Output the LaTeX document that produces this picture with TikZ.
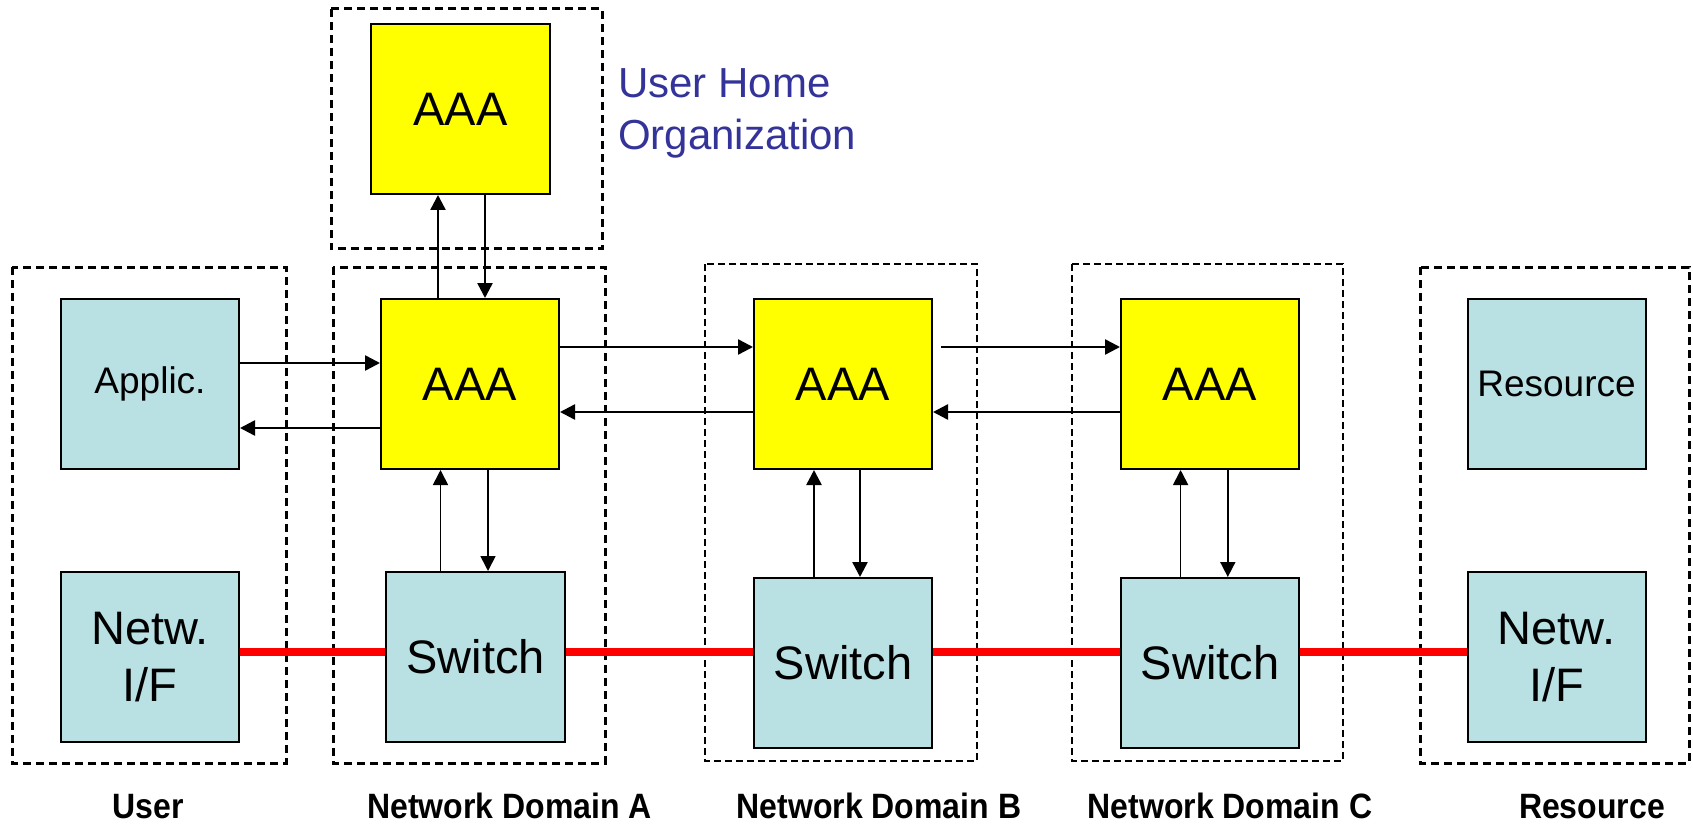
\documentclass[tikz,border=0pt]{standalone}
\usepackage{fontspec}
\usepackage{graphicx}
\setmainfont{Liberation Sans}
\usetikzlibrary{arrows.meta}
\definecolor{aaafill}{HTML}{FFFF00}
\definecolor{boxblue}{HTML}{B9E0E3}
\definecolor{homeblue}{HTML}{333399}
\definecolor{linkred}{HTML}{FF0000}
\begin{document}
\begin{tikzpicture}[x=1pt,y=-1pt,
  blk/.style={draw=black, line width=2pt, minimum width=178pt, minimum height=170pt, inner sep=0pt, anchor=center},
  aaa/.style={blk, fill=aaafill, font=\fontsize{47}{57}\selectfont},
  bluebox/.style={blk, fill=boxblue, font=\fontsize{47}{57}\selectfont, align=center},
  smallbox/.style={blk, fill=boxblue, font=\fontsize{37}{44}\selectfont},
  frameA/.style={draw=black, line width=3pt, dash pattern=on 8pt off 5pt},
  frameB/.style={draw=black, line width=2pt, dash pattern=on 7pt off 4pt},
  msg/.style={draw=black, line width=2.5pt, -{Triangle[length=15pt,width=15pt]}},
  msgthin/.style={msg, line width=1.7pt},
  link/.style={draw=linkred, line width=8pt},
  domlabel/.style={font=\fontsize{32}{38}\selectfont\bfseries, anchor=base, inner sep=0pt},
]
\fill[white] (0,0) rectangle (1693,826);
\useasboundingbox (0,0) rectangle (1693,826);

% dashed frames
\draw[frameA] (331,9) rectangle (602,249);
\draw[frameA] (12,267) rectangle (286,763);
\draw[frameA] (333,267) rectangle (605,763);
\draw[frameB] (705,264) rectangle (977,761);
\draw[frameB] (1072,264) rectangle (1343,761);
\draw[frameA] (1420,267) rectangle (1689,763);

% boxes
\node[aaa, minimum width=179pt] (homeaaa) at (460.5,109) {AAA};
\node[aaa] (aaaA) at (470,384) {AAA};
\node[aaa] (aaaB) at (843,384) {AAA};
\node[aaa] (aaaC) at (1210,384) {AAA};
\node[smallbox] (applic) at (150,384) {Applic.};
\node[smallbox] (resource) at (1556.5,384) {Resource};
\node[bluebox] (netL) at (150,657) {Netw.\\I/F};
\node[bluebox] (netR) at (1556.5,657) {Netw.\\I/F};
\node[bluebox, minimum width=179pt] (swA) at (475.5,657) {Switch};
\node[bluebox] (swB) at (843,663) {Switch};
\node[bluebox] (swC) at (1210,663) {Switch};

% home organization label
\node[anchor=north west, inner sep=0pt, align=left, text=homeblue,
      font=\fontsize{42}{51.7}\selectfont] (homelabel) at (618,68.3) {User Home\\Organization};

% AAA messages
\draw[msg] ([xshift=-32pt]aaaA.north) -- ([xshift=-32pt]aaaA.north |- homeaaa.south);
\draw[msg] ([xshift=15pt]aaaA.north |- homeaaa.south) -- ([xshift=15pt]aaaA.north);
\draw[msg] ([yshift=21pt]applic.east) -- ([yshift=21pt]applic.east -| aaaA.west);
\draw[msg] ([yshift=-44pt]aaaA.west) -- ([yshift=-44pt]aaaA.west -| applic.east);
\draw[msg] ([yshift=37pt]aaaA.east) -- ([yshift=37pt]aaaA.east -| aaaB.west);
\draw[msg] ([yshift=-28pt]aaaB.west) -- ([yshift=-28pt]aaaB.west -| aaaA.east);
\draw[msg] ([yshift=37pt,xshift=8pt]aaaB.east) -- ([yshift=37pt]aaaB.east -| aaaC.west);
\draw[msg] ([yshift=-28pt]aaaC.west) -- ([yshift=-28pt]aaaC.west -| aaaB.east);

% AAA <-> switch
\draw[msgthin] ([xshift=-35pt]swA.north) -- ([xshift=-35pt]swA.north |- aaaA.south);
\draw[msgthin] ([xshift=12.5pt]swA.north |- aaaA.south) -- ([xshift=12.5pt]swA.north);
\draw[msg] ([xshift=-29pt]swB.north) -- ([xshift=-29pt]swB.north |- aaaB.south);
\draw[msg] ([xshift=17pt]swB.north |- aaaB.south) -- ([xshift=17pt]swB.north);
\draw[msgthin] ([xshift=-29.4pt]swC.north) -- ([xshift=-29.4pt]swC.north |- aaaC.south);
\draw[msgthin] ([xshift=17.8pt]swC.north |- aaaC.south) -- ([xshift=17.8pt]swC.north);

% data path
\coordinate (ry) at (0,652);
\draw[link] (netL.east |- ry) -- (swA.west |- ry);
\draw[link] (swA.east |- ry) -- (swB.west |- ry);
\draw[link] (swB.east |- ry) -- (swC.west |- ry);
\draw[link] (swC.east |- ry) -- (netR.west |- ry);

% domain labels
\node[domlabel] (lblUser) at (148,818) {\scalebox{1}[1.1]{User}};
\node[domlabel] (lblA) at (509.5,818) {\scalebox{1}[1.1]{Network Domain A}};
\node[domlabel] (lblB) at (879,818) {\scalebox{1}[1.1]{Network Domain B}};
\node[domlabel] (lblC) at (1230,818) {\scalebox{1}[1.1]{Network Domain C}};
\node[domlabel] (lblRes) at (1592,818) {\scalebox{1}[1.1]{Resource}};
\end{tikzpicture}
\end{document}
